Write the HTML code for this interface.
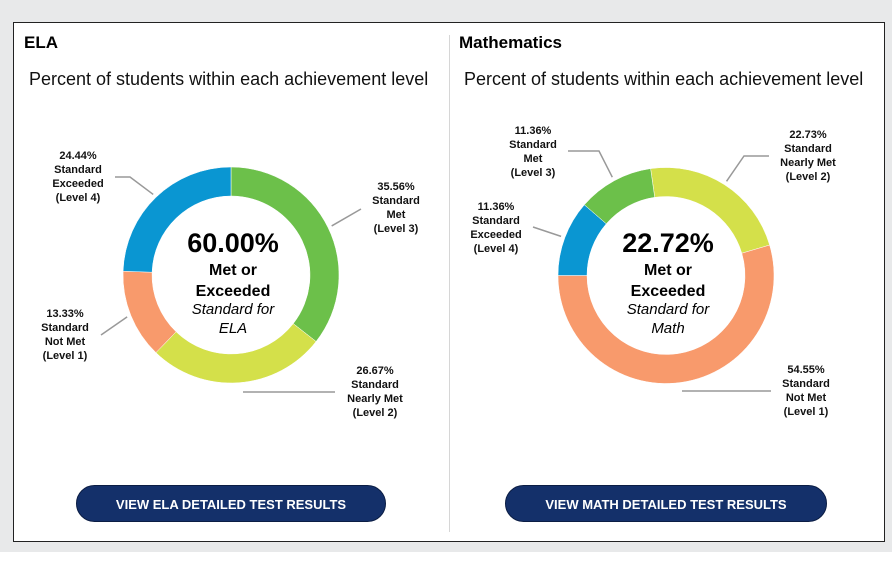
<!DOCTYPE html>
<html><head><meta charset="utf-8"><style>
html,body{margin:0;padding:0;background:#fff;}
body{width:892px;height:566px;position:relative;overflow:hidden;font-family:"Liberation Sans",Arial,sans-serif;}
.bg{position:absolute;left:0;top:0;width:892px;height:552px;background:#e8e9ea;}
.card{position:absolute;left:13px;top:22px;width:870px;height:518px;background:#fff;border:1px solid #222;}
.divider{position:absolute;left:449px;top:35px;width:1px;height:497px;background:#d6d6d6;}
.title{position:absolute;font-weight:bold;font-size:17px;color:#000;}
.sub{position:absolute;font-size:18px;color:#111;}
.btn{position:absolute;height:37px;border-radius:19px;background:#14306a;border:1px solid #0b1d44;color:#fff;font-weight:bold;font-size:13px;text-align:center;line-height:37px;box-sizing:border-box;}
svg{position:absolute;left:0;top:0;}
</style></head><body>
<div class="bg"></div>
<div class="card"></div>
<div class="divider"></div>
<div class="title" style="left:24px;top:33px">ELA</div>
<div class="title" style="left:459px;top:33px">Mathematics</div>
<div class="sub" style="left:29px;top:69px">Percent of students within each achievement level</div>
<div class="sub" style="left:464px;top:69px">Percent of students within each achievement level</div>
<div class="btn" style="left:76px;top:485px;width:310px">VIEW ELA DETAILED TEST RESULTS</div>
<div class="btn" style="left:505px;top:485px;width:322px">VIEW MATH DETAILED TEST RESULTS</div>
<svg id="chart" width="892" height="566"></svg>
<script>
const levels = ["Level 1","Level 2","Level 3","Level 4"];
const elaValues = [13.33, 26.67, 35.56, 24.44];
const mathValues = [54.55, 22.73, 11.36, 11.36];
const elaCenterValue = "60.00%";
const mathCenterValue = "22.72%";
const levelNames = [["Standard","Not Met"],["Standard","Nearly Met"],["Standard","Met"],["Standard","Exceeded"]];
const colors = ["#f89a6c","#d4e04a","#6cc04a","#0a96d2"];
const NS = "http://www.w3.org/2000/svg";
const svg = document.getElementById("chart");
function mk(tag, attrs){const e=document.createElementNS(NS,tag);for(const k in attrs)e.setAttribute(k,attrs[k]);svg.appendChild(e);return e;}
function pt(cx,cy,r,deg){const a=(deg-90)*Math.PI/180;return [cx+r*Math.cos(a),cy+r*Math.sin(a)];}
function donut(name, values, order, start, cx, cy, centerVal, subject, labelPos){
  const R=108, r=79;
  let ang=start;
  const total=values.reduce((a,b)=>a+b,0);
  order.forEach(i=>{
    const sweep=values[i]/total*360;
    const a0=ang, a1=ang+sweep;
    const p1=pt(cx,cy,R,a0),p2=pt(cx,cy,R,a1),p3=pt(cx,cy,r,a1),p4=pt(cx,cy,r,a0);
    const lg=sweep>180?1:0;
    const p=mk("path",{d:`M${p1[0]},${p1[1]} A${R},${R} 0 ${lg} 1 ${p2[0]},${p2[1]} L${p3[0]},${p3[1]} A${r},${r} 0 ${lg} 0 ${p4[0]},${p4[1]} Z`,fill:colors[i],stroke:"#fff","stroke-width":"0.5"});
    
    
    const lp=labelPos[i];
    const mid=(a0+a1)/2;
    const e=pt(cx,cy,R+4,mid);
    const pts = lp.flat ? `${lp.lx},${lp.ly} ${lp.kx},${lp.ly}` : `${lp.lx},${lp.ly} ${lp.kx},${lp.ly} ${e[0]},${e[1]}`;
    const line=mk("polyline",{points:pts,fill:"none",stroke:"#999","stroke-width":"1.5"});
    
    
    const t=mk("text",{x:lp.x,y:lp.y,"text-anchor":"middle","font-size":"11","font-weight":"bold",fill:"#111"});
    
    
    const lines=[values[i].toFixed(2)+"%",levelNames[i][0],levelNames[i][1],"("+levels[i]+")"];
    lines.forEach((s,k)=>{const ts=document.createElementNS(NS,"tspan");ts.setAttribute("x",lp.x);ts.setAttribute("dy",k?14:0);ts.textContent=s;t.appendChild(ts);});
    ang=a1;
  });
  const c=[[centerVal,27,"bold","normal",252],["Met or",16,"bold","normal",275],["Exceeded",16,"bold","normal",296],["Standard for",15,"normal","italic",314],[subject,15,"normal","italic",333]];
  c.forEach((d,k)=>{
    const t=mk("text",{x:cx+2,y:d[4],"text-anchor":"middle","font-size":d[1],"font-weight":d[2],"font-style":d[3],fill:"#000"});
    
    
    t.textContent=d[0];
  });
}
donut("ela", elaValues, [2,1,0,3], 0, 231, 275, elaCenterValue, "ELA", [
  {x:65,y:317,lx:101,kx:101,ly:335},
  {x:375,y:374,lx:243,kx:335,ly:392,flat:true},
  {x:396,y:190,lx:361,kx:361,ly:209},
  {x:78,y:159,lx:115,kx:130,ly:177}
]);
donut("math", mathValues, [1,0,3,2], -8.2, 666, 275.5, mathCenterValue, "Math", [
  {x:806,y:373,lx:771,kx:682,ly:391,flat:true},
  {x:808,y:138,lx:769,kx:744,ly:156},
  {x:533,y:134,lx:568,kx:599,ly:151},
  {x:496,y:210,lx:533,kx:533,ly:227}
]);
</script>
</body></html>
